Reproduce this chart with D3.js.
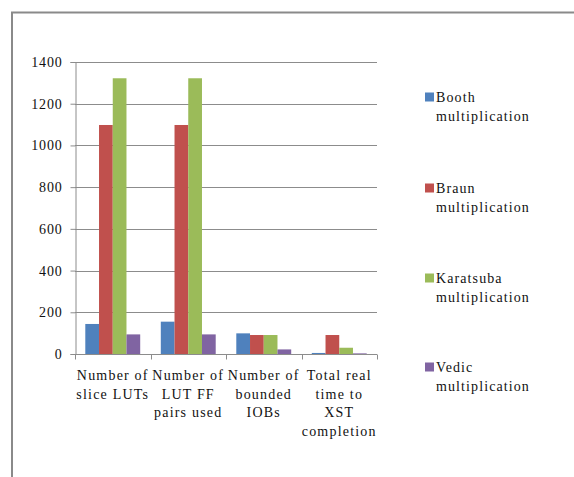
<!DOCTYPE html>
<html>
<head>
<meta charset="utf-8">
<script src="https://cdn.jsdelivr.net/npm/d3@7"></script>
<style>
  html, body { margin: 0; padding: 0; background: #fff; }
  svg { display: block; }
  text { font-family: "Liberation Serif", "Times New Roman", serif; fill: #111; }
</style>
</head>
<body>
<svg id="chart" width="574" height="477"></svg>
<script>
// Resource usage of four multiplier designs
const categories = [
  ["Number of", "slice LUTs"],
  ["Number of", "LUT FF", "pairs used"],
  ["Number of", "bounded", "IOBs"],
  ["Total real", "time to", "XST", "completion"]
];
const seriesNames = [
  ["Booth", "multiplication"],
  ["Braun", "multiplication"],
  ["Karatsuba", "multiplication"],
  ["Vedic", "multiplication"]
];
const booth     = [144, 155, 99, 5];
const braun     = [1098, 1098, 91, 91];
const karatsuba = [1322, 1322, 91, 30];
const vedic     = [94, 94, 22, 3];
const yTicks = [0, 200, 400, 600, 800, 1000, 1200, 1400];
const colors = ["#4F81BD", "#C0504D", "#9BBB59", "#8064A2"];

const series = [booth, braun, karatsuba, vedic];

const svg = d3.select("#chart");

// outer frame
svg.append("rect")
  .attr("x", 12).attr("y", 12.5)
  .attr("width", 600).attr("height", 500)
  .attr("fill", "none").attr("stroke", "#8a8a8a").attr("stroke-width", 2);

const plot = { left: 75, right: 377, top: 62, bottom: 354 };

const x0 = d3.scaleBand()
  .domain(d3.range(categories.length))
  .range([plot.left, plot.right])
  .paddingInner(0).paddingOuter(0);

// 150% gap between groups, split evenly on both sides
const x1 = d3.scaleBand()
  .domain(d3.range(series.length))
  .range([0, x0.bandwidth()])
  .paddingInner(0)
  .paddingOuter(0.75);

const y = d3.scaleLinear().domain([0, 1400]).range([plot.bottom, plot.top]);

// gridlines
svg.append("g")
  .selectAll("line")
  .data(yTicks.filter(d => d > 0))
  .join("line")
  .attr("x1", plot.left).attr("x2", plot.right)
  .attr("y1", d => Math.round(y(d)) + 0.5).attr("y2", d => Math.round(y(d)) + 0.5)
  .attr("stroke", "#8c8c8c").attr("stroke-width", 1);

// bars
const groups = svg.append("g")
  .selectAll("g")
  .data(categories.map((c, i) => i))
  .join("g")
  .attr("transform", i => `translate(${x0(i)},0)`);

groups.selectAll("rect")
  .data(i => series.map((s, k) => ({ k, v: s[i] })))
  .join("rect")
  .attr("x", d => x1(d.k))
  .attr("width", x1.bandwidth())
  .attr("y", d => y(d.v))
  .attr("height", d => plot.bottom - y(d.v))
  .attr("fill", d => colors[d.k]);

// y axis
const yAxis = d3.axisLeft(y).tickValues(yTicks).tickSize(5).tickPadding(8).tickFormat(d3.format("d"));
const gy = svg.append("g")
  .attr("transform", `translate(${plot.left + 0.5},0)`)
  .call(yAxis);
gy.select(".domain").attr("stroke", "#8c8c8c");
gy.selectAll(".tick line").attr("stroke", "#8c8c8c");
gy.selectAll(".tick text")
  .style("font-family", "'Liberation Serif', serif")
  .style("font-size", "14px")
  .style("letter-spacing", "0.8px")
  .attr("fill", "#111");

// x axis with category boundary ticks
const gx = svg.append("g").attr("transform", `translate(0,${plot.bottom + 0.5})`);
gx.append("line")
  .attr("x1", plot.left).attr("x2", plot.right)
  .attr("stroke", "#8c8c8c");
const bounds = d3.range(categories.length + 1).map(i => i < categories.length ? x0(i) : plot.right);
gx.selectAll("line.tk")
  .data(bounds)
  .join("line")
  .attr("class", "tk")
  .attr("x1", d => Math.round(d) + 0.5).attr("x2", d => Math.round(d) + 0.5)
  .attr("y1", 0).attr("y2", 5)
  .attr("stroke", "#8c8c8c");

// category labels
const catLabels = svg.append("g")
  .selectAll("text")
  .data(categories.map((lines, i) => ({ lines, i })))
  .join("text")
  .attr("text-anchor", "middle")
  .style("font-size", "14px")
  .style("letter-spacing", "1.2px")
  .attr("x", d => x0(d.i) + x0.bandwidth() / 2)
  .attr("y", 380);
catLabels.selectAll("tspan")
  .data(d => d.lines.map(l => ({ l, cx: x0(d.i) + x0.bandwidth() / 2 })))
  .join("tspan")
  .attr("x", d => d.cx)
  .attr("dy", (d, j) => j === 0 ? 0 : 18.5)
  .text(d => d.l);

// legend
const legendY = [97, 188, 278, 367];
const legend = svg.append("g")
  .selectAll("g")
  .data(seriesNames.map((n, k) => ({ n, k })))
  .join("g")
  .attr("transform", d => `translate(425,${legendY[d.k]})`);
legend.append("rect")
  .attr("x", 0).attr("y", -4.5)
  .attr("width", 9).attr("height", 9)
  .attr("fill", d => colors[d.k]);
legend.append("text")
  .style("font-size", "14px")
  .style("letter-spacing", "1.1px")
  .selectAll("tspan")
  .data(d => d.n)
  .join("tspan")
  .attr("x", 11)
  .attr("y", (d, j) => 5 + j * 18.5)
  .text(d => d);
</script>
</body>
</html>
